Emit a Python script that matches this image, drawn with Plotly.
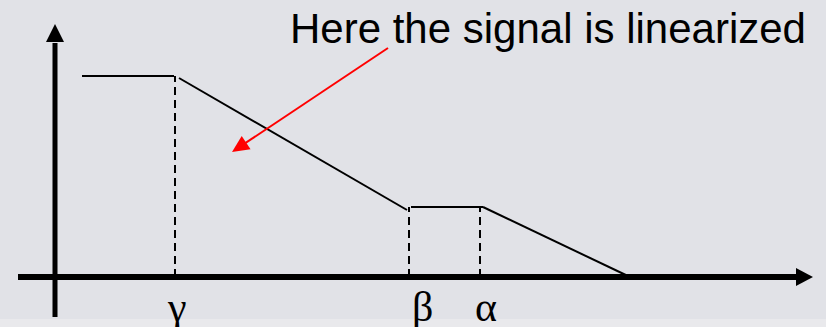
import numpy as np
import plotly.graph_objects as go

# ---- data (chart units: origin at the axes crossing) ----
# signal segments (x, y)
flat1_x = [27, 119]
flat1_y = [201, 201]
slope1_x = [124, 352]
slope1_y = [199, 67]
flat2_x = [356, 428]
flat2_y = [70, 70]
slope2_x = [428, 575]
slope2_y = [70, 0]

# thresholds (dashed verticals)
thr_names = ["γ", "β", "α"]
thr_x = [120, 354, 425]
thr_top = [201, 70, 70]
thr_label_x = [122, 367, 431]

note_text = "Here the signal is linearized"
note_tail = (333, 229)
note_tip = (177, 125)

W, H = 826, 327
X0, Y0 = 55, 277  # pixel position of origin
BG = "#e1e2e7"

fig = go.Figure()

segs = [(flat1_x, flat1_y), (slope1_x, slope1_y), (flat2_x, flat2_y), (slope2_x, slope2_y)]
for sx, sy in segs:
    fig.add_trace(go.Scatter(x=sx, y=sy, mode="lines",
                             line=dict(color="black", width=2), hoverinfo="skip"))

for x, t in zip(thr_x, thr_top):
    fig.add_trace(go.Scatter(x=[x, x], y=[0, t], mode="lines",
                             line=dict(color="black", width=2, dash="8px,5px"), hoverinfo="skip"))

shapes = []
# bottom band
shapes.append(dict(type="rect", xref="x", yref="y", x0=-X0, x1=W - X0, y0=Y0 - H, y1=Y0 - 319,
                   fillcolor="#e9e9ec", line=dict(width=0), layer="below"))
# x axis
shapes.append(dict(type="line", x0=18 - X0, x1=797 - X0, y0=0, y1=0,
                   line=dict(color="black", width=6)))
shapes.append(dict(type="path", path=f"M {796 - X0},9 L {813 - X0},0 L {796 - X0},-9 Z",
                   fillcolor="black", line=dict(width=0)))
# y axis
shapes.append(dict(type="line", x0=0, x1=0, y0=Y0 - 317, y1=Y0 - 43,
                   line=dict(color="black", width=5)))
shapes.append(dict(type="path", path=f"M -9,{Y0 - 42} L 0,{Y0 - 24} L 9,{Y0 - 42} Z",
                   fillcolor="black", line=dict(width=0)))

# red arrow
tail = np.array(note_tail, float)
tip = np.array(note_tip, float)
u = (tip - tail) / np.linalg.norm(tip - tail)
perp = np.array([-u[1], u[0]])
base = tip - 17 * u
p1 = base + 8 * perp
p2 = base - 8 * perp
shapes.append(dict(type="line", x0=tail[0], y0=tail[1], x1=base[0] + 2 * u[0], y1=base[1] + 2 * u[1],
                   line=dict(color="red", width=2)))
shapes.append(dict(type="path",
                   path=f"M {tip[0]},{tip[1]} L {p1[0]},{p1[1]} L {p2[0]},{p2[1]} Z",
                   fillcolor="red", line=dict(width=0)))

annotations = [dict(x=288 - X0, y=Y0 - 3, xref="x", yref="y", text=note_text,
                    showarrow=False, xanchor="left", yanchor="top",
                    font=dict(family="Liberation Sans, Arial", size=42, color="black"))]
for name, lx in zip(thr_names, thr_label_x):
    annotations.append(dict(x=lx, y=-5, xref="x", yref="y", text=name, showarrow=False,
                            xanchor="center", yanchor="top",
                            font=dict(family="Liberation Serif, Times New Roman", size=42, color="black")))

fig.update_layout(
    width=W, height=H, margin=dict(l=0, r=0, t=0, b=0),
    paper_bgcolor=BG, plot_bgcolor=BG, showlegend=False,
    xaxis=dict(range=[-X0, W - X0], visible=False, fixedrange=True),
    yaxis=dict(range=[Y0 - H, Y0], visible=False, fixedrange=True),
    shapes=shapes, annotations=annotations,
)

fig.write_html("out.html", config={"displayModeBar": False},
               post_script="document.body.style.margin='0';document.body.style.padding='0';document.body.style.background='" + BG + "';")
